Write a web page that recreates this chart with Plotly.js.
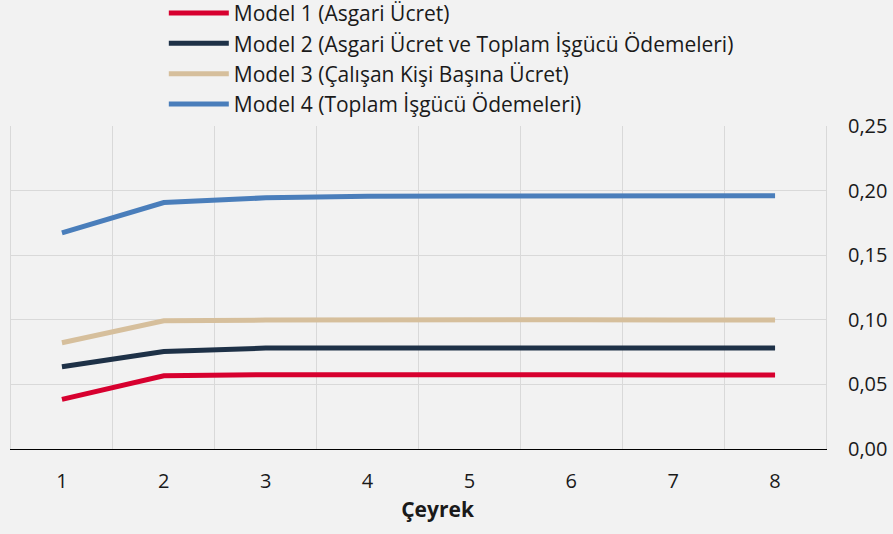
<!DOCTYPE html>
<html>
<head>
<meta charset="utf-8">
<script src="https://cdn.plot.ly/plotly-3.0.1.min.js"></script>
<style>html,body{margin:0;padding:0;background:#f2f2f2;}</style>
</head>
<body>
<div id="chart" style="width:893px;height:534px;"></div>
<script>
const quarters = ['1','2','3','4','5','6','7','8'];
const seriesNames = [
  'Model 1 (Asgari Ücret)',
  'Model 2 (Asgari Ücret ve Toplam İşgücü Ödemeleri)',
  'Model 3 (Çalışan Kişi Başına Ücret)',
  'Model 4 (Toplam İşgücü Ödemeleri)'
];
const model1 = [0.0384, 0.0567, 0.0575, 0.0577, 0.0575, 0.0574, 0.0573, 0.0572];
const model2 = [0.0637, 0.0755, 0.0781, 0.0783, 0.0782, 0.0782, 0.0781, 0.0781];
const model3 = [0.0822, 0.0992, 0.0998, 0.1001, 0.1001, 0.1000, 0.0999, 0.0998];
const model4 = [0.1673, 0.1908, 0.1944, 0.1956, 0.1958, 0.1959, 0.1959, 0.1960];
const colors = ['#d7002f', '#1e3147', '#d6bf9c', '#4a7ebb'];
const values = [model1, model2, model3, model4];

const traces = values.map((v, i) => ({
  x: quarters, y: v, type: 'scatter', mode: 'lines', name: seriesNames[i],
  line: {color: colors[i], width: 5}
}));

const font = 'Open Sans, sans-serif';
const layout = {
  width: 893, height: 534,
  paper_bgcolor: '#f2f2f2', plot_bgcolor: '#f2f2f2',
  margin: {l: 11, r: 67, t: 126, b: 85, autoexpand: false},
  separators: ',.',
  font: {family: font, size: 20, color: '#1a1a1a'},
  showlegend: true,
  legend: {
    x: 0.1875, xanchor: 'left', y: 1.412, yanchor: 'top',
    bgcolor: 'rgba(0,0,0,0)', font: {family: font, size: 21, color: '#1a1a1a'},
    itemwidth: 60, traceorder: 'normal'
  },
  xaxis: {
    type: 'category', tickson: 'boundaries', range: [-0.5, 7.5],
    showgrid: true, gridcolor: '#d9d9d9', gridwidth: 1,
    showline: true, linecolor: '#000000', linewidth: 1,
    ticks: '', ticklabelstandoff: 14,
    tickfont: {family: font, size: 20, color: '#1a1a1a'},
    title: {text: '&nbsp;&nbsp;&nbsp;&nbsp;&nbsp;&nbsp;&nbsp;<b>Çeyrek</b>', font: {family: font, size: 21, color: '#1a1a1a'}, standoff: 9},
    fixedrange: true
  },
  yaxis: {
    side: 'right', range: [0, 0.25], dtick: 0.05, tickformat: '.2f',
    showgrid: true, gridcolor: '#d9d9d9', gridwidth: 1,
    zeroline: false,
    showline: true, linecolor: '#d9d9d9', linewidth: 1, mirror: true,
    ticks: '', ticklabelstandoff: 17,
    tickfont: {family: font, size: 20, color: '#1a1a1a'},
    fixedrange: true
  }
};

Plotly.newPlot('chart', traces, layout, {displayModeBar: false, staticPlot: true});
</script>
</body>
</html>
